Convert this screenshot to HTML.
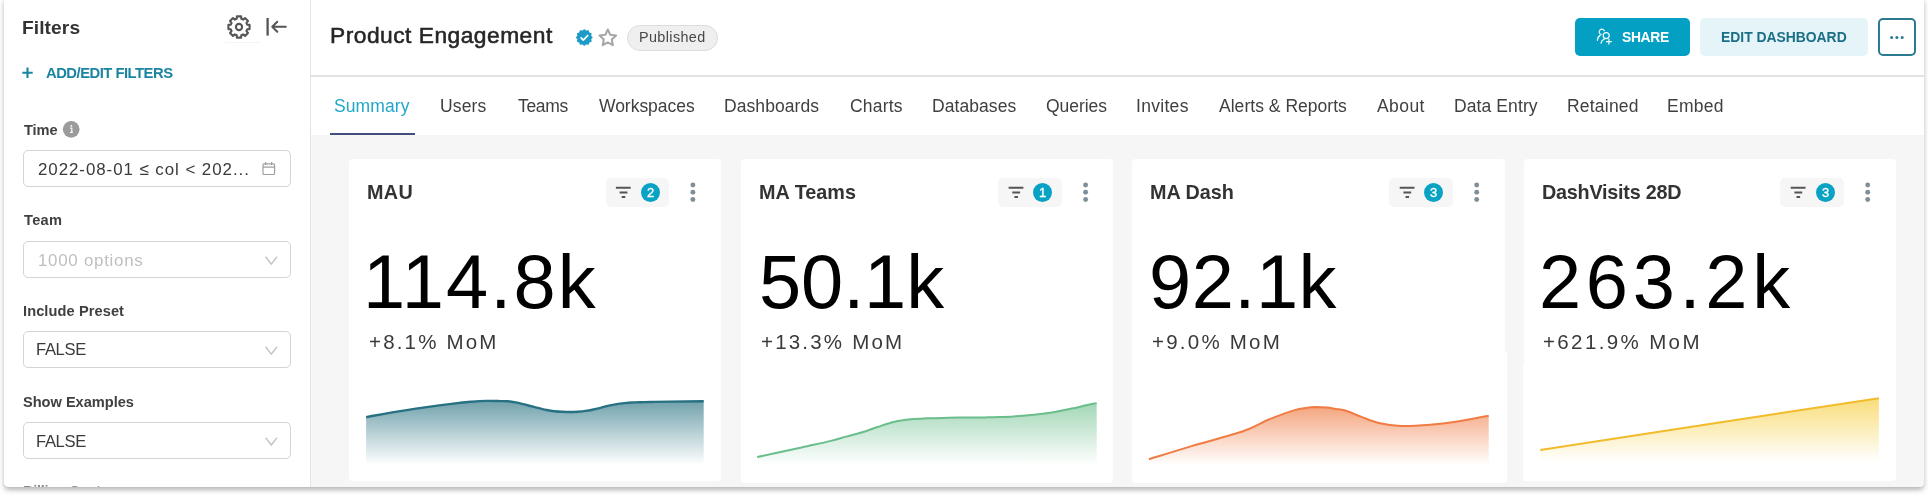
<!DOCTYPE html>
<html lang="en">
<head>
<meta charset="utf-8">
<title>Product Engagement</title>
<style>
html,body{margin:0;padding:0;background:#fff;}
body{width:1928px;height:495px;overflow:hidden;position:relative;font-family:"Liberation Sans",sans-serif;}
#frame{position:absolute;left:4px;top:-2px;width:1920.4px;height:488.6px;background:#fff;border-radius:0 0 4.5px 4.5px;overflow:hidden;box-shadow:0 3px 5px rgba(0,0,0,.29);}
#in{position:absolute;left:-4px;top:2px;width:1928px;height:495px;}
#in div,#in svg{position:absolute;}
.t{white-space:nowrap;line-height:1;will-change:transform;}
.box{left:23px;width:266px;height:35px;border:1px solid #d4d4d4;border-radius:5px;background:#fff;}
.card{top:159.3px;width:372.6px;height:321.5px;background:#fff;border-radius:4px;}
.fb{top:178px;width:63.6px;height:28.8px;border-radius:5px;background:#f6f6f6;}
.dot{width:19px;height:19px;border-radius:50%;background:#08a2c4;top:182.9px;}
</style>
</head>
<body>
<div id="frame"><div id="in">

<!-- main gray background -->
<div style="left:311px;top:134.5px;width:1617px;height:360px;background:#f6f6f6;"></div>
<!-- sidebar border -->
<div style="left:310px;top:0;width:1px;height:495px;background:#e4e4e4;"></div>
<!-- header bottom border -->
<div style="left:311px;top:75px;width:1617px;height:1.5px;background:#e2e2e2;"></div>
<!-- tab ink bar -->
<div style="left:330px;top:133.3px;width:85px;height:2.1px;background:#454e7c;"></div>
<!-- faint tooltip remnant under gear -->
<div style="left:225px;top:41.6px;width:36px;height:1.2px;background:#f4f4f4;border-radius:1px;"></div>

<!-- sidebar input boxes -->
<div class="box" style="top:150px;"></div>
<div class="box" style="top:241px;"></div>
<div class="box" style="top:331px;"></div>
<div class="box" style="top:422px;"></div>

<!-- header: published pill -->
<div style="left:626.5px;top:24.5px;width:89.5px;height:24.5px;border:1px solid #dcdcdc;border-radius:14px;background:#efefef;"></div>
<!-- share button -->
<div style="left:1574.5px;top:18.3px;width:115.6px;height:38px;border-radius:5px;background:#04a0c3;"></div>
<!-- edit dashboard -->
<div style="left:1700px;top:18.3px;width:168px;height:38px;border-radius:5px;background:#e5f4f8;"></div>
<!-- more button -->
<div style="left:1877.5px;top:18.3px;width:34px;height:34px;border:2px solid #2a7a90;border-radius:5px;background:#fff;"></div>

<!-- cards -->
<div class="card" style="left:348.9px;"></div>
<div class="card" style="left:740.5px;height:323.3px;"></div>
<div class="card" style="left:1132.4px;"></div>
<div class="card" style="left:1523.9px;"></div>
<!-- stitched-screenshot quirk on card 3/4 lower part -->
<div style="left:1131.8px;top:352px;width:375.2px;height:130.6px;background:#fff;border-radius:0 0 4px 4px;"></div>
<div style="left:1523px;top:362.5px;width:10px;height:118.3px;background:#fff;border-radius:0 0 0 4px;"></div>

<!-- filter badges -->
<div class="fb" style="left:605.5px;"></div><div class="dot" style="left:641.0px;"></div>
<div class="fb" style="left:998.2px;"></div><div class="dot" style="left:1033.2px;"></div>
<div class="fb" style="left:1389.3px;"></div><div class="dot" style="left:1424.3px;"></div>
<div class="fb" style="left:1780.3px;"></div><div class="dot" style="left:1816.0px;"></div>

<!-- all vector graphics in page coordinates -->
<svg width="1928" height="495" viewBox="0 0 1928 495" style="left:0;top:0;overflow:visible;">
<defs><linearGradient id="g1" gradientUnits="userSpaceOnUse" x1="0" y1="400.9" x2="0" y2="465"><stop offset="0" stop-color="#287182" stop-opacity="0.66"/><stop offset="1" stop-color="#287182" stop-opacity="0"/></linearGradient></defs>
<path d="M366.1,417.1 C372.9,415.9 392.1,412.3 406.7,410.1 C421.2,407.8 442.5,405.0 453.4,403.6 C464.3,402.2 466.4,402.1 472.0,401.7 C477.6,401.2 482.3,401.0 487.0,400.9 C491.7,400.8 496.5,401.0 500.0,401.1 C503.5,401.2 505.2,401.1 507.8,401.3 C510.4,401.5 513.0,401.9 515.6,402.4 C518.2,402.9 520.7,403.5 523.3,404.1 C525.9,404.7 528.5,405.5 531.1,406.2 C533.7,406.9 536.3,407.6 538.9,408.2 C541.5,408.8 544.1,409.5 546.7,410.0 C549.3,410.5 551.9,410.9 554.5,411.2 C557.1,411.5 559.6,411.7 562.2,411.8 C564.8,411.9 567.4,412.0 570.0,412.0 C572.6,412.0 575.2,411.9 577.8,411.7 C580.4,411.5 583.0,411.3 585.6,410.9 C588.2,410.5 590.8,410.1 593.4,409.5 C596.0,408.9 598.5,408.2 601.1,407.6 C603.7,406.9 606.3,406.2 608.9,405.6 C611.5,405.0 614.1,404.5 616.7,404.1 C619.3,403.7 621.9,403.4 624.5,403.1 C627.1,402.8 629.7,402.6 632.3,402.5 C634.9,402.4 637.0,402.3 640.0,402.2 C643.0,402.1 645.0,402.1 650.0,402.0 C655.0,401.9 661.0,401.7 670.0,401.6 C679.0,401.5 698.1,401.3 703.7,401.3 L703.7,465 L366.1,465 Z" fill="url(#g1)"/>
<path d="M366.1,417.1 C372.9,415.9 392.1,412.3 406.7,410.1 C421.2,407.8 442.5,405.0 453.4,403.6 C464.3,402.2 466.4,402.1 472.0,401.7 C477.6,401.2 482.3,401.0 487.0,400.9 C491.7,400.8 496.5,401.0 500.0,401.1 C503.5,401.2 505.2,401.1 507.8,401.3 C510.4,401.5 513.0,401.9 515.6,402.4 C518.2,402.9 520.7,403.5 523.3,404.1 C525.9,404.7 528.5,405.5 531.1,406.2 C533.7,406.9 536.3,407.6 538.9,408.2 C541.5,408.8 544.1,409.5 546.7,410.0 C549.3,410.5 551.9,410.9 554.5,411.2 C557.1,411.5 559.6,411.7 562.2,411.8 C564.8,411.9 567.4,412.0 570.0,412.0 C572.6,412.0 575.2,411.9 577.8,411.7 C580.4,411.5 583.0,411.3 585.6,410.9 C588.2,410.5 590.8,410.1 593.4,409.5 C596.0,408.9 598.5,408.2 601.1,407.6 C603.7,406.9 606.3,406.2 608.9,405.6 C611.5,405.0 614.1,404.5 616.7,404.1 C619.3,403.7 621.9,403.4 624.5,403.1 C627.1,402.8 629.7,402.6 632.3,402.5 C634.9,402.4 637.0,402.3 640.0,402.2 C643.0,402.1 645.0,402.1 650.0,402.0 C655.0,401.9 661.0,401.7 670.0,401.6 C679.0,401.5 698.1,401.3 703.7,401.3" fill="none" stroke="#287182" stroke-width="2.4" stroke-linejoin="round"/>
<defs><linearGradient id="g2" gradientUnits="userSpaceOnUse" x1="0" y1="403.1" x2="0" y2="465"><stop offset="0" stop-color="#6abe8b" stop-opacity="0.62"/><stop offset="1" stop-color="#6abe8b" stop-opacity="0"/></linearGradient></defs>
<path d="M757.2,457.1 C764.6,455.5 789.4,450.1 801.5,447.4 C813.6,444.7 822.5,442.9 830.0,441.1 C837.5,439.3 840.8,438.1 846.2,436.6 C851.6,435.1 856.9,433.9 862.3,432.2 C867.7,430.5 873.1,428.4 878.5,426.7 C883.9,424.9 889.3,422.9 894.7,421.7 C900.1,420.4 905.4,419.8 910.8,419.2 C916.2,418.6 921.6,418.5 927.0,418.3 C932.4,418.1 937.7,418.0 943.1,417.9 C948.5,417.8 952.4,417.7 959.3,417.6 C966.2,417.5 977.9,417.5 984.5,417.4 C991.1,417.3 994.1,417.3 999.0,417.1 C1003.9,416.9 1008.8,416.7 1013.6,416.4 C1018.5,416.1 1023.3,415.8 1028.1,415.3 C1032.9,414.9 1037.8,414.3 1042.6,413.7 C1047.4,413.1 1052.2,412.4 1057.1,411.5 C1061.9,410.6 1066.8,409.6 1071.7,408.6 C1076.6,407.6 1082.0,406.2 1086.2,405.3 C1090.4,404.4 1095.0,403.5 1096.7,403.1 L1096.7,465 L757.2,465 Z" fill="url(#g2)"/>
<path d="M757.2,457.1 C764.6,455.5 789.4,450.1 801.5,447.4 C813.6,444.7 822.5,442.9 830.0,441.1 C837.5,439.3 840.8,438.1 846.2,436.6 C851.6,435.1 856.9,433.9 862.3,432.2 C867.7,430.5 873.1,428.4 878.5,426.7 C883.9,424.9 889.3,422.9 894.7,421.7 C900.1,420.4 905.4,419.8 910.8,419.2 C916.2,418.6 921.6,418.5 927.0,418.3 C932.4,418.1 937.7,418.0 943.1,417.9 C948.5,417.8 952.4,417.7 959.3,417.6 C966.2,417.5 977.9,417.5 984.5,417.4 C991.1,417.3 994.1,417.3 999.0,417.1 C1003.9,416.9 1008.8,416.7 1013.6,416.4 C1018.5,416.1 1023.3,415.8 1028.1,415.3 C1032.9,414.9 1037.8,414.3 1042.6,413.7 C1047.4,413.1 1052.2,412.4 1057.1,411.5 C1061.9,410.6 1066.8,409.6 1071.7,408.6 C1076.6,407.6 1082.0,406.2 1086.2,405.3 C1090.4,404.4 1095.0,403.5 1096.7,403.1" fill="none" stroke="#6abe8b" stroke-width="2.0" stroke-linejoin="round"/>
<defs><linearGradient id="g3" gradientUnits="userSpaceOnUse" x1="0" y1="407.1" x2="0" y2="465"><stop offset="0" stop-color="#f07c44" stop-opacity="0.68"/><stop offset="1" stop-color="#f07c44" stop-opacity="0"/></linearGradient></defs>
<path d="M1148.9,459.3 C1156.0,457.1 1175.8,450.8 1191.5,446.1 C1207.2,441.4 1230.1,435.6 1243.0,431.2 C1255.9,426.8 1260.2,423.0 1268.8,419.5 C1277.4,416.0 1288.4,412.0 1294.6,410.1 C1300.8,408.2 1302.4,408.4 1306.0,407.9 C1309.6,407.4 1312.5,407.2 1316.0,407.1 C1319.5,407.1 1323.7,407.3 1327.0,407.6 C1330.3,407.9 1333.1,408.5 1336.0,408.9 C1338.9,409.4 1340.2,409.0 1344.4,410.3 C1348.7,411.6 1355.8,414.8 1361.5,416.9 C1367.2,419.0 1372.1,421.4 1378.7,422.9 C1385.3,424.4 1392.4,425.6 1401.0,425.9 C1409.6,426.2 1421.1,425.4 1430.3,424.7 C1439.5,424.0 1446.3,423.2 1456.0,421.7 C1465.7,420.2 1483.2,416.7 1488.7,415.7 L1488.7,465 L1148.9,465 Z" fill="url(#g3)"/>
<path d="M1148.9,459.3 C1156.0,457.1 1175.8,450.8 1191.5,446.1 C1207.2,441.4 1230.1,435.6 1243.0,431.2 C1255.9,426.8 1260.2,423.0 1268.8,419.5 C1277.4,416.0 1288.4,412.0 1294.6,410.1 C1300.8,408.2 1302.4,408.4 1306.0,407.9 C1309.6,407.4 1312.5,407.2 1316.0,407.1 C1319.5,407.1 1323.7,407.3 1327.0,407.6 C1330.3,407.9 1333.1,408.5 1336.0,408.9 C1338.9,409.4 1340.2,409.0 1344.4,410.3 C1348.7,411.6 1355.8,414.8 1361.5,416.9 C1367.2,419.0 1372.1,421.4 1378.7,422.9 C1385.3,424.4 1392.4,425.6 1401.0,425.9 C1409.6,426.2 1421.1,425.4 1430.3,424.7 C1439.5,424.0 1446.3,423.2 1456.0,421.7 C1465.7,420.2 1483.2,416.7 1488.7,415.7" fill="none" stroke="#f07c44" stroke-width="2.0" stroke-linejoin="round"/>
<defs><linearGradient id="g4" gradientUnits="userSpaceOnUse" x1="0" y1="398.2" x2="0" y2="461.5"><stop offset="0" stop-color="#f5ca2e" stop-opacity="0.64"/><stop offset="1" stop-color="#f5ca2e" stop-opacity="0"/></linearGradient></defs>
<path d="M1540.3,449.9 C1596.7,441.3 1822.5,406.8 1878.9,398.2 L1878.9,461.5 L1540.3,461.5 Z" fill="url(#g4)"/>
<path d="M1540.3,449.9 C1596.7,441.3 1822.5,406.8 1878.9,398.2" fill="none" stroke="#f1bb2c" stroke-width="2.0" stroke-linejoin="round"/>
<path d="M236.69,18.82 L236.89,16.41 L241.11,16.41 L241.31,18.82 L243.15,19.58 L245.00,18.02 L247.98,21.00 L246.42,22.85 L247.18,24.69 L249.59,24.89 L249.59,29.11 L247.18,29.31 L246.42,31.15 L247.98,33.00 L245.00,35.98 L243.15,34.42 L241.31,35.18 L241.11,37.59 L236.89,37.59 L236.69,35.18 L234.85,34.42 L233.00,35.98 L230.02,33.00 L231.58,31.15 L230.82,29.31 L228.41,29.11 L228.41,24.89 L230.82,24.69 L231.58,22.85 L230.02,21.00 L233.00,18.02 L234.85,19.58 Z" fill="none" stroke="#555" stroke-width="2.1" stroke-linejoin="round"/>
<circle cx="239" cy="27" r="3.1" fill="none" stroke="#555" stroke-width="2.1"/>
<path d="M267.6,18 V35.6" stroke="#555" stroke-width="2.3" fill="none"/>
<path d="M272.2,26.8 H285.8 M277.3,21.8 L272.2,26.8 L277.3,31.8" stroke="#555" stroke-width="2" fill="none" stroke-linecap="round" stroke-linejoin="round"/>
<path d="M22.3,72.7 H32.7 M27.5,67.5 V77.9" stroke="#1a85a0" stroke-width="2.1" fill="none"/>
<circle cx="71.2" cy="129.3" r="8.35" fill="#9b9b9b"/>
<path d="M70.2,128.2 H71.8 V132.4 M70,132.4 H72.9" stroke="#fff" stroke-width="1.2" fill="none" opacity="0.92"/><circle cx="71.3" cy="125.9" r="0.95" fill="#fff" opacity="0.92"/>
<rect x="263" y="163.9" width="11.6" height="10.6" rx="1" fill="none" stroke="#a0a0a0" stroke-width="1.2"/><path d="M263,167.2 H274.6 M265.6,162 V165 M271.6,162 V165" stroke="#a0a0a0" stroke-width="1.2" fill="none"/>
<path d="M265.6,256.8 L271.3,264.2 L277,256.8" stroke="#c2c2c2" stroke-width="1.4" fill="none" stroke-linejoin="miter"/>
<path d="M265.6,346.8 L271.3,354.2 L277,346.8" stroke="#c2c2c2" stroke-width="1.4" fill="none" stroke-linejoin="miter"/>
<path d="M265.6,437.6 L271.3,445.0 L277,437.6" stroke="#c2c2c2" stroke-width="1.4" fill="none" stroke-linejoin="miter"/>
<path d="M592.60,37.50 L592.52,37.86 L592.29,38.20 L591.98,38.51 L591.66,38.80 L591.40,39.07 L591.25,39.36 L591.24,39.69 L591.32,40.06 L591.46,40.47 L591.57,40.89 L591.60,41.30 L591.49,41.65 L591.24,41.92 L590.87,42.10 L590.45,42.22 L590.03,42.30 L589.66,42.41 L589.39,42.59 L589.21,42.86 L589.10,43.23 L589.02,43.65 L588.90,44.07 L588.72,44.44 L588.45,44.69 L588.10,44.80 L587.69,44.77 L587.27,44.66 L586.86,44.52 L586.49,44.44 L586.16,44.45 L585.87,44.60 L585.60,44.86 L585.31,45.18 L585.00,45.49 L584.66,45.72 L584.30,45.80 L583.94,45.72 L583.60,45.49 L583.29,45.18 L583.00,44.86 L582.73,44.60 L582.44,44.45 L582.11,44.44 L581.74,44.52 L581.33,44.66 L580.91,44.77 L580.50,44.80 L580.15,44.69 L579.88,44.44 L579.70,44.07 L579.58,43.65 L579.50,43.23 L579.39,42.86 L579.21,42.59 L578.94,42.41 L578.57,42.30 L578.15,42.22 L577.73,42.10 L577.36,41.92 L577.11,41.65 L577.00,41.30 L577.03,40.89 L577.14,40.47 L577.28,40.06 L577.36,39.69 L577.35,39.36 L577.20,39.07 L576.94,38.80 L576.62,38.51 L576.31,38.20 L576.08,37.86 L576.00,37.50 L576.08,37.14 L576.31,36.80 L576.62,36.49 L576.94,36.20 L577.20,35.93 L577.35,35.64 L577.36,35.31 L577.28,34.94 L577.14,34.53 L577.03,34.11 L577.00,33.70 L577.11,33.35 L577.36,33.08 L577.73,32.90 L578.15,32.78 L578.57,32.70 L578.94,32.59 L579.21,32.41 L579.39,32.14 L579.50,31.77 L579.58,31.35 L579.70,30.93 L579.88,30.56 L580.15,30.31 L580.50,30.20 L580.91,30.23 L581.33,30.34 L581.74,30.48 L582.11,30.56 L582.44,30.55 L582.73,30.40 L583.00,30.14 L583.29,29.82 L583.60,29.51 L583.94,29.28 L584.30,29.20 L584.66,29.28 L585.00,29.51 L585.31,29.82 L585.60,30.14 L585.87,30.40 L586.16,30.55 L586.49,30.56 L586.86,30.48 L587.27,30.34 L587.69,30.23 L588.10,30.20 L588.45,30.31 L588.72,30.56 L588.90,30.93 L589.02,31.35 L589.10,31.77 L589.21,32.14 L589.39,32.41 L589.66,32.59 L590.03,32.70 L590.45,32.78 L590.87,32.90 L591.24,33.08 L591.49,33.35 L591.60,33.70 L591.57,34.11 L591.46,34.53 L591.32,34.94 L591.24,35.31 L591.25,35.64 L591.40,35.93 L591.66,36.20 L591.98,36.49 L592.29,36.80 L592.52,37.14 Z" fill="#1b9bc5"/>
<path d="M581.1,37.9 L583.3,40.1 L587.7,35.5" stroke="#fff" stroke-width="1.7" fill="none" stroke-linecap="round" stroke-linejoin="round"/>
<path d="M607.80,29.50 L610.27,34.80 L616.07,35.51 L611.79,39.50 L612.91,45.24 L607.80,42.40 L602.69,45.24 L603.81,39.50 L599.53,35.51 L605.33,34.80 Z" fill="none" stroke="#a6a6a6" stroke-width="2.0" stroke-linejoin="round"/>
<g stroke="#fff" stroke-width="1.2" fill="none" stroke-linecap="round" opacity="0.96"><path d="M1601.16,34.5 A2.7,2.7 0 1 1 1604.37,30.8"/><circle cx="1606.2" cy="35.6" r="3.05"/><path d="M1600.2,35.4 C1598.6,36.2 1597.6,37.9 1597.4,40.3"/><path d="M1604.5,38.9 C1602.7,39.7 1601.3,41.1 1601.0,43.1"/><path d="M1608.9,39.3 V44.1 M1606.5,41.7 H1611.3"/></g>
<circle cx="1891.6000000000001" cy="37.6" r="1.5" fill="#2a7a90"/><circle cx="1896.9" cy="37.6" r="1.5" fill="#2a7a90"/><circle cx="1902.2" cy="37.6" r="1.5" fill="#2a7a90"/>
<path d="M615.9,187.8 H630.7 M619.6,192.6 H627.4 M621.7,197.1 H625.3" stroke="#555" stroke-width="2" fill="none"/>
<circle cx="692.9" cy="185" r="2.45" fill="#7f8f99"/><circle cx="692.9" cy="192.3" r="2.45" fill="#7f8f99"/><circle cx="692.9" cy="199.5" r="2.45" fill="#7f8f99"/>
<path d="M1008.6,187.8 H1023.4000000000001 M1012.3000000000001,192.6 H1020.1 M1014.4000000000001,197.1 H1018.0" stroke="#555" stroke-width="2" fill="none"/>
<circle cx="1085.6000000000001" cy="185" r="2.45" fill="#7f8f99"/><circle cx="1085.6000000000001" cy="192.3" r="2.45" fill="#7f8f99"/><circle cx="1085.6000000000001" cy="199.5" r="2.45" fill="#7f8f99"/>
<path d="M1399.7,187.8 H1414.5 M1403.3999999999999,192.6 H1411.2 M1405.5,197.1 H1409.1" stroke="#555" stroke-width="2" fill="none"/>
<circle cx="1476.7" cy="185" r="2.45" fill="#7f8f99"/><circle cx="1476.7" cy="192.3" r="2.45" fill="#7f8f99"/><circle cx="1476.7" cy="199.5" r="2.45" fill="#7f8f99"/>
<path d="M1790.7,187.8 H1805.5 M1794.3999999999999,192.6 H1802.2 M1796.5,197.1 H1800.1" stroke="#555" stroke-width="2" fill="none"/>
<circle cx="1867.7" cy="185" r="2.45" fill="#7f8f99"/><circle cx="1867.7" cy="192.3" r="2.45" fill="#7f8f99"/><circle cx="1867.7" cy="199.5" r="2.45" fill="#7f8f99"/>

</svg>

<div class="t" style="left:22.24px;top:17.70px;font-size:19.2px;font-weight:700;color:#333;letter-spacing:0.079px;">Filters</div>
<div class="t" style="left:45.99px;top:65.80px;font-size:14.8px;font-weight:700;color:#1a85a0;letter-spacing:-0.501px;">ADD/EDIT FILTERS</div>
<div class="t" style="left:23.80px;top:122.70px;font-size:14.6px;font-weight:700;color:#404040;letter-spacing:-0.094px;">Time</div>
<div class="t" style="left:24.02px;top:213.30px;font-size:14.6px;font-weight:700;color:#404040;letter-spacing:0.313px;">Team</div>
<div class="t" style="left:22.72px;top:304.30px;font-size:14.6px;font-weight:700;color:#404040;letter-spacing:0.092px;">Include Preset</div>
<div class="t" style="left:22.97px;top:394.60px;font-size:14.6px;font-weight:700;color:#404040;letter-spacing:-0.018px;">Show Examples</div>
<div class="t" style="left:22.72px;top:484.00px;font-size:14.6px;font-weight:700;color:#8c8c8c;letter-spacing:-0.301px;">Billing Customer</div>
<div class="t" style="left:38.10px;top:161.70px;font-size:16.9px;font-weight:400;color:#3a3a3a;letter-spacing:0.946px;">2022-08-01 ≤ col &lt; 202...</div>
<div class="t" style="left:37.73px;top:252.70px;font-size:16.9px;font-weight:400;color:#bfbfbf;letter-spacing:0.730px;">1000 options</div>
<div class="t" style="left:36.11px;top:342.30px;font-size:16.6px;font-weight:400;color:#3a3a3a;letter-spacing:-0.344px;">FALSE</div>
<div class="t" style="left:36.11px;top:433.60px;font-size:16.6px;font-weight:400;color:#3a3a3a;letter-spacing:-0.344px;">FALSE</div>
<div class="t" style="left:329.90px;top:24.10px;font-size:22.8px;font-weight:400;color:#262626;letter-spacing:0.475px;-webkit-text-stroke:0.55px #262626;">Product Engagement</div>
<div class="t" style="left:639.05px;top:30.10px;font-size:14.4px;font-weight:400;color:#484848;letter-spacing:0.376px;">Published</div>
<div class="t" style="left:1622.18px;top:30.80px;font-size:13.9px;font-weight:700;color:#ffffff;letter-spacing:-0.337px;">SHARE</div>
<div class="t" style="left:1721.10px;top:30.90px;font-size:13.9px;font-weight:700;color:#1a6f86;letter-spacing:-0.009px;">EDIT DASHBOARD</div>
<div class="t" style="left:334.21px;top:98.20px;font-size:17.5px;font-weight:400;color:#20a7c9;letter-spacing:0.094px;">Summary</div>
<div class="t" style="left:440.47px;top:98.20px;font-size:17.5px;font-weight:400;color:#404040;letter-spacing:0.151px;">Users</div>
<div class="t" style="left:517.83px;top:98.20px;font-size:17.5px;font-weight:400;color:#404040;letter-spacing:-0.317px;">Teams</div>
<div class="t" style="left:598.89px;top:98.20px;font-size:17.5px;font-weight:400;color:#404040;letter-spacing:-0.033px;">Workspaces</div>
<div class="t" style="left:723.98px;top:98.20px;font-size:17.5px;font-weight:400;color:#404040;letter-spacing:0.080px;">Dashboards</div>
<div class="t" style="left:849.88px;top:98.20px;font-size:17.5px;font-weight:400;color:#404040;letter-spacing:0.207px;">Charts</div>
<div class="t" style="left:931.70px;top:98.20px;font-size:17.5px;font-weight:400;color:#404040;letter-spacing:0.064px;">Databases</div>
<div class="t" style="left:1046.47px;top:98.20px;font-size:17.5px;font-weight:400;color:#404040;letter-spacing:-0.044px;">Queries</div>
<div class="t" style="left:1136.26px;top:98.20px;font-size:17.5px;font-weight:400;color:#404040;letter-spacing:0.303px;">Invites</div>
<div class="t" style="left:1218.78px;top:98.20px;font-size:17.5px;font-weight:400;color:#404040;letter-spacing:0.031px;">Alerts &amp; Reports</div>
<div class="t" style="left:1376.78px;top:98.20px;font-size:17.5px;font-weight:400;color:#404040;letter-spacing:0.424px;">About</div>
<div class="t" style="left:1453.60px;top:98.20px;font-size:17.5px;font-weight:400;color:#404040;letter-spacing:0.100px;">Data Entry</div>
<div class="t" style="left:1566.60px;top:98.20px;font-size:17.5px;font-weight:400;color:#404040;letter-spacing:0.212px;">Retained</div>
<div class="t" style="left:1666.60px;top:98.20px;font-size:17.5px;font-weight:400;color:#404040;letter-spacing:0.271px;">Embed</div>
<div class="t" style="left:367.31px;top:183.30px;font-size:19.8px;font-weight:700;color:#333;letter-spacing:0.319px;">MAU</div>
<div class="t" style="left:758.50px;top:183.30px;font-size:19.8px;font-weight:700;color:#333;letter-spacing:0.038px;">MA Teams</div>
<div class="t" style="left:1150.45px;top:183.30px;font-size:19.8px;font-weight:700;color:#333;letter-spacing:-0.024px;">MA Dash</div>
<div class="t" style="left:1542.26px;top:183.30px;font-size:19.8px;font-weight:700;color:#333;letter-spacing:-0.237px;">DashVisits 28D</div>
<div class="t" style="left:363.22px;top:243.50px;font-size:75.8px;font-weight:400;color:#000;letter-spacing:2.147px;">114.8k</div>
<div class="t" style="left:758.89px;top:243.50px;font-size:75.8px;font-weight:400;color:#000;letter-spacing:-0.085px;">50.1k</div>
<div class="t" style="left:1148.67px;top:243.50px;font-size:75.8px;font-weight:400;color:#000;letter-spacing:0.518px;">92.1k</div>
<div class="t" style="left:1538.51px;top:243.50px;font-size:75.8px;font-weight:400;color:#000;letter-spacing:4.713px;">263.2k</div>
<div class="t" style="left:368.79px;top:331.70px;font-size:20.5px;font-weight:400;color:#3a3a3a;letter-spacing:2.171px;">+8.1% MoM</div>
<div class="t" style="left:760.50px;top:331.70px;font-size:20.5px;font-weight:400;color:#3a3a3a;letter-spacing:2.192px;">+13.3% MoM</div>
<div class="t" style="left:1151.81px;top:331.70px;font-size:20.5px;font-weight:400;color:#3a3a3a;letter-spacing:2.231px;">+9.0% MoM</div>
<div class="t" style="left:1543.22px;top:331.70px;font-size:20.5px;font-weight:400;color:#3a3a3a;letter-spacing:2.372px;">+621.9% MoM</div>
<div class="t" style="left:647.10px;top:186.00px;font-size:13px;font-weight:400;color:#fff;letter-spacing:0.000px;-webkit-text-stroke:0.35px #fff;">2</div>
<div class="t" style="left:1039.30px;top:186.00px;font-size:13px;font-weight:400;color:#fff;letter-spacing:0.000px;-webkit-text-stroke:0.35px #fff;">1</div>
<div class="t" style="left:1429.57px;top:186.00px;font-size:13px;font-weight:400;color:#fff;letter-spacing:0.000px;-webkit-text-stroke:0.35px #fff;">3</div>
<div class="t" style="left:1822.10px;top:186.00px;font-size:13px;font-weight:400;color:#fff;letter-spacing:0.000px;-webkit-text-stroke:0.35px #fff;">3</div>

</div></div>
</body>
</html>
